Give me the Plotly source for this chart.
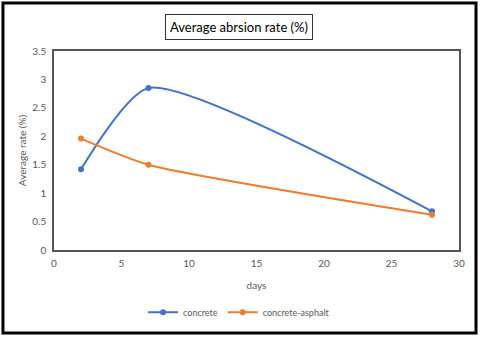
import plotly.graph_objects as go

days = [2, 7, 28]
concrete = [1.42, 2.85, 0.68]
concrete_asphalt = [1.96, 1.50, 0.62]

blue = '#4472C4'
orange = '#ED7D31'
font = 'Lato'

fig = go.Figure()
fig.add_trace(go.Scatter(x=days, y=concrete, name='concrete', mode='lines+markers',
                         line=dict(color=blue, width=2, shape='spline', smoothing=0.6),
                         marker=dict(size=6, color=blue)))
fig.add_trace(go.Scatter(x=days, y=concrete_asphalt, name='concrete-asphalt', mode='lines+markers',
                         line=dict(color=orange, width=2, shape='spline', smoothing=0.6),
                         marker=dict(size=6, color=orange)))

fig.update_xaxes(range=[0, 30], dtick=5, showgrid=False, zeroline=False, automargin=False,
                 showline=True, mirror=True, linecolor='#555555', linewidth=1.5,
                 ticklabelstandoff=3,
                 tickfont=dict(size=10, color='#595959', family=font),
                 title=dict(text='days', font=dict(size=10, color='#595959', family=font), standoff=14))
fig.update_yaxes(range=[0, 3.5], dtick=0.5, showgrid=False, zeroline=False, automargin=False,
                 showline=True, mirror=True, linecolor='#555555', linewidth=1.5,
                 ticklabelstandoff=4,
                 tickfont=dict(size=10, color='#595959', family=font),
                 title=dict(text='Average rate (%)', font=dict(size=10, color='#595959', family=font), standoff=4))

fig.add_annotation(text='Average abrsion rate (%)', xref='paper', yref='paper',
                   x=0.457, y=1.12, xanchor='center', yanchor='middle', showarrow=False,
                   font=dict(size=13, color='black', family=font),
                   bordercolor='#333333', borderwidth=1, borderpad=4, bgcolor='white')

# outer frame around the whole chart
fig.add_shape(type='rect', xref='paper', yref='paper',
              x0=-0.126, x1=1.042, y0=-0.417, y1=1.241,
              line=dict(color='black', width=3))

fig.update_layout(width=480, height=337, plot_bgcolor='white', paper_bgcolor='white',
                  margin=dict(l=54, r=21, t=51, b=87, autoexpand=False),
                  showlegend=True,
                  legend=dict(orientation='h', x=0.457, xanchor='center', y=-0.24, yanchor='top',
                              bgcolor='rgba(0,0,0,0)', itemwidth=30,
                              font=dict(size=9, color='#595959', family=font)))

fig.write_html("out.html", config={'displayModeBar': False},
               post_script="document.body.style.margin='0';")
